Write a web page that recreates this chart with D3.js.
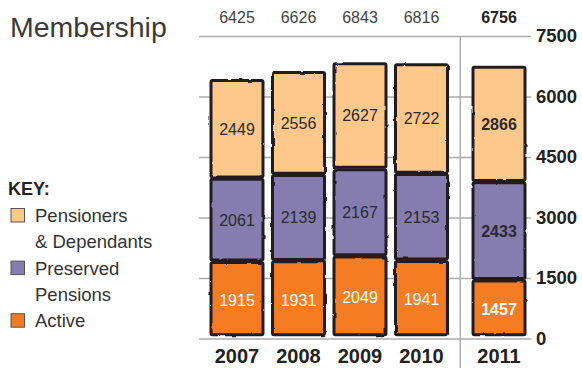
<!DOCTYPE html>
<html>
<head>
<meta charset="utf-8">
<script src="https://cdn.jsdelivr.net/npm/d3@7"></script>
<style>
  html, body { margin: 0; padding: 0; background: #fff; }
  svg { display: block; font-family: "Liberation Sans", Arial, Helvetica, sans-serif; }
</style>
</head>
<body>
<svg id="chart" width="582" height="368"></svg>
<script>
// Membership by year, split into three groups
const years = ["2007", "2008", "2009", "2010", "2011"];
const active = [1915, 1931, 2049, 1941, 1457];
const preserved = [2061, 2139, 2167, 2153, 2433];
const pensioners = [2449, 2556, 2627, 2722, 2866];
const yTicks = [0, 1500, 3000, 4500, 6000, 7500];
const highlightYear = "2011";

const seriesNames = ["Active", "Preserved", "Pensioners"];
const seriesValues = [active, preserved, pensioners];
const colors = { Active: "#F47B20", Preserved: "#857CB0", Pensioners: "#FDC88A" };
const labelColors = { Active: "#ffffff", Preserved: "#2b2b2b", Pensioners: "#2b2b2b" };

const rows = years.map((yr, i) => {
  const r = { year: yr };
  seriesNames.forEach((s, k) => { r[s] = seriesValues[k][i]; });
  return r;
});
const totals = rows.map(r => d3.sum(seriesNames, s => r[s]));
const stacked = d3.stack().keys(seriesNames)(rows);

const svg = d3.select("#chart");

// slightly wobbly, hand-inked outline for the bar segments
const defs = svg.append("defs");
const rough = defs.append("filter").attr("id", "rough")
  .attr("x", "-5%").attr("y", "-5%").attr("width", "110%").attr("height", "110%");
rough.append("feTurbulence").attr("type", "fractalNoise")
  .attr("baseFrequency", 0.09).attr("numOctaves", 2).attr("seed", 4).attr("result", "noise");
rough.append("feDisplacementMap").attr("in", "SourceGraphic").attr("in2", "noise")
  .attr("scale", 2.2).attr("xChannelSelector", "R").attr("yChannelSelector", "G");

// scales
const gridLeft = 199, gridRight = 531;
const y = d3.scaleLinear().domain([0, 7500]).range([338.5, 36]);
const x = d3.scaleBand().domain(years).range([211, 509]).paddingInner(0.1545).paddingOuter(0);
const sepOffset = 16; // extra room after the separator before the latest year
const xPos = yr => x(yr) + (yr === highlightYear ? sepOffset : 0);
const bw = x.bandwidth();

// gridlines
svg.append("g")
  .attr("transform", `translate(${gridLeft},0)`)
  .call(d3.axisLeft(y).tickValues(yTicks).tickSize(-(gridRight - gridLeft)).tickFormat(""))
  .call(g => g.select(".domain").remove())
  .call(g => g.selectAll("line").attr("stroke", "#ababab").attr("stroke-width", 1.4));

// separator before the latest year
const sepX = (x("2010") + bw + xPos(highlightYear)) / 2;
svg.append("line")
  .attr("x1", sepX).attr("x2", sepX)
  .attr("y1", y(7500)).attr("y2", 368)
  .attr("stroke", "#ababab").attr("stroke-width", 1.4);

// right axis labels
svg.append("g")
  .attr("transform", `translate(${gridRight},0)`)
  .call(d3.axisRight(y).tickValues(yTicks).tickSize(0).tickPadding(5).tickFormat(d3.format("d")))
  .call(g => g.select(".domain").remove())
  .call(g => g.selectAll("text")
    .attr("font-family", "Liberation Sans, Arial, sans-serif")
    .attr("font-size", 18.5).attr("font-weight", "bold").attr("fill", "#222"));

// stacked segments
const segG = svg.append("g");
const rectG = segG.append("g").attr("filter", "url(#rough)");
const labelG = segG.append("g");
stacked.forEach(layer => {
  const key = layer.key;
  rectG.selectAll(null)
    .data(layer)
    .join("rect")
    .attr("x", d => xPos(d.data.year))
    .attr("y", d => y(d[1]) + 1.2)
    .attr("width", bw)
    .attr("height", d => y(d[0]) - y(d[1]) - 2.4 - (d[0] === 0 ? 2.5 : 0))
    .attr("rx", 1.5)
    .attr("fill", colors[key])
    .attr("stroke", "#231f20")
    .attr("stroke-width", 3)
    .attr("stroke-linejoin", "round");

  labelG.selectAll(null)
    .data(layer)
    .join("text")
    .attr("x", d => xPos(d.data.year) + bw / 2)
    .attr("y", d => (y(d[0]) + y(d[1])) / 2 + 6)
    .attr("text-anchor", "middle")
    .attr("font-size", 16)
    .attr("font-weight", d => d.data.year === highlightYear ? "bold" : "normal")
    .attr("fill", labelColors[key])
    .text(d => d.data[key]);
});

// totals above the plot
svg.append("g").selectAll("text")
  .data(years)
  .join("text")
  .attr("x", d => xPos(d) + bw / 2)
  .attr("y", 23)
  .attr("text-anchor", "middle")
  .attr("font-size", 16)
  .attr("font-weight", d => d === highlightYear ? "bold" : "normal")
  .attr("fill", d => d === highlightYear ? "#222" : "#444")
  .text((d, i) => totals[i]);

// year labels
svg.append("g").selectAll("text")
  .data(years)
  .join("text")
  .attr("x", d => xPos(d) + bw / 2)
  .attr("y", 363)
  .attr("text-anchor", "middle")
  .attr("font-size", 20)
  .attr("font-weight", "bold")
  .attr("fill", "#222")
  .text(d => d);

// title
svg.append("text")
  .attr("x", 10).attr("y", 37)
  .attr("font-size", 28.5)
  .attr("fill", "#3a3a3a")
  .text("Membership");

// key
svg.append("text")
  .attr("x", 8).attr("y", 195)
  .attr("font-size", 18).attr("font-weight", "bold").attr("fill", "#222")
  .text("KEY:");

const keyItems = [
  { key: "Pensioners", lines: ["Pensioners", "& Dependants"] },
  { key: "Preserved", lines: ["Preserved", "Pensions"] },
  { key: "Active", lines: ["Active"] }
];
let baseline = 222;
const lineStep = 26.3;
keyItems.forEach(item => {
  svg.append("rect")
    .attr("x", 11).attr("y", baseline - 13.5)
    .attr("width", 13.5).attr("height", 13.5)
    .attr("fill", colors[item.key])
    .attr("stroke", "#555").attr("stroke-width", 1);
  item.lines.forEach(line => {
    svg.append("text")
      .attr("x", 35).attr("y", baseline)
      .attr("font-size", 18.5).attr("fill", "#333")
      .text(line);
    baseline += lineStep;
  });
});
</script>
</body>
</html>
